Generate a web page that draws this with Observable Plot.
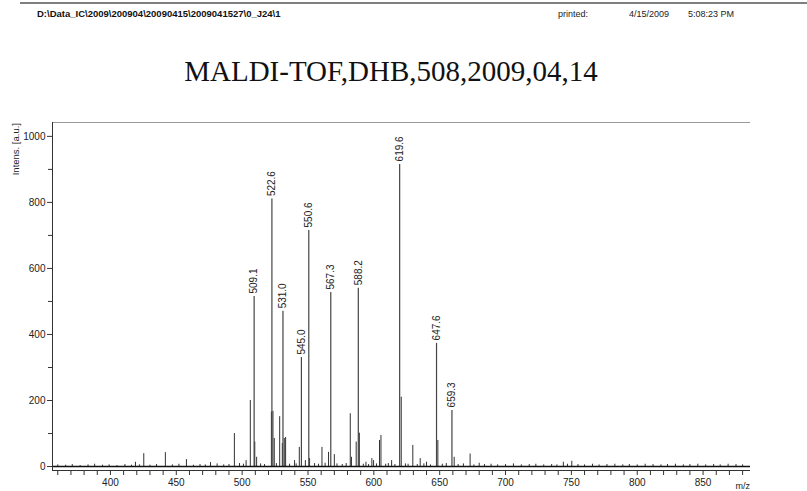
<!DOCTYPE html>
<html><head><meta charset="utf-8">
<script src="https://cdn.jsdelivr.net/npm/d3@7"></script>
<script src="https://cdn.jsdelivr.net/npm/@observablehq/plot@0.6"></script>
<style>
body{margin:0;background:#fff;}
#wrap{position:relative;width:807px;height:491px;overflow:hidden;background:#fff;}
#wrap svg{position:absolute;left:0;top:0;}
</style></head><body><div id="wrap"></div>
<script>
// ---- texts ----
const headerPath = "D:\\Data_IC\\2009\\200904\\20090415\\2009041527\\0_J24\\1";
const printedLabel = "printed:";
const printedDate = "4/15/2009";
const printedTime = "5:08:23 PM";
const titleText = "MALDI-TOF,DHB,508,2009,04,14";
const yLabel = "Intens. [a.u.]";
const xLabel = "m/z";

// ---- labelled peaks ----
const labeledMz = [509.1, 522.6, 531.0, 545.0, 550.6, 567.3, 588.2, 619.6, 647.6, 659.3];
const labeledIntensity = [515, 810, 470, 330, 715, 527, 540, 915, 373, 170];

// ---- unlabelled peaks ----
const minorMz = [419, 425.3, 441.7, 457.7, 476, 494.1, 503, 506.2, 509.6, 511, 522.2, 523.4, 524.4, 528.5, 530.5, 532, 533, 539.8, 543.4, 548, 551.2, 560.6, 565.6, 570, 582.1, 583, 586.6, 589, 594, 598.5, 599.8, 604.3, 605.4, 613.5, 620.8, 629.6, 635.2, 640, 648.6, 661, 673.1, 680, 743.9, 750.3];
const minorIntensity = [13, 39, 42, 21, 12, 100, 18, 200, 74, 28, 165, 167, 85, 151, 70, 85, 88, 18, 58, 18, 24, 58, 43, 36, 160, 28, 74, 101, 13, 24, 18, 79, 94, 18, 210, 64, 24, 13, 79, 28, 38, 10, 13, 16];

// ---- baseline noise ----
const noiseMz = [360,366,371,377,383,388,394,399,405,411,416,422,430,435,447,452,463,468,472,481,486,490,498,501,514,517,526,536,541,555,558,563,572,576,579,592,596,602,609,611,616,624,626,633,638,643,652,655,664,668,676,684,689,694,700,706,712,718,723,729,735,739,747,755,760,766,771,777,783,789,794,800,806,812,818,823,829,835,840,846,852,858,863,869,875,880];
const noiseIntensity = [5,4,6,3,5,7,4,5,3,6,4,5,4,6,5,7,4,6,5,8,5,6,9,7,8,6,9,7,8,9,7,10,8,6,9,7,6,8,7,9,6,8,7,6,8,5,7,9,6,8,5,6,7,5,6,8,5,6,7,5,6,5,7,6,5,7,5,6,7,5,6,5,7,6,5,6,7,5,6,7,5,6,5,7,6,5];

// ---- ticks & domains ----
const xMajorTicks = [400, 450, 500, 550, 600, 650, 700, 750, 800, 850];
const xMinorTicks = [360,370,380,390,410,420,430,440,460,470,480,490,510,520,530,540,560,570,580,590,610,620,630,640,660,670,680,690,710,720,730,740,760,770,780,790,810,820,830,840,860,870,880];
const yMajorTicks = [0, 200, 400, 600, 800, 1000];
const yMinorTicks = [100, 300, 500, 700, 900];
const xDomain = [356, 886];
const yDomain = [-12, 1042];

const labeled = labeledMz.map((mz, i) => ({mz, intensity: labeledIntensity[i]}));
const minor = minorMz.map((mz, i) => ({mz, intensity: minorIntensity[i]}));
const noise = noiseMz.map((mz, i) => ({mz, intensity: noiseIntensity[i]}));

const chart = Plot.plot({
  width: 807,
  height: 491,
  marginLeft: 52,
  marginRight: 57,
  marginTop: 122,
  marginBottom: 21,
  style: {fontFamily: "'Liberation Sans', Arial, sans-serif", fontSize: "10px", color: "#222", background: "transparent"},
  x: {domain: xDomain, label: null},
  y: {domain: yDomain, label: null},
  marks: [
    Plot.ruleY([yDomain[1]], {stroke: "#9a9a9a", strokeWidth: 1}),
    Plot.ruleX(noise, {x: "mz", y1: 0, y2: "intensity", stroke: "#333", strokeWidth: 1}),
    Plot.ruleX(minor, {x: "mz", y1: 0, y2: "intensity", stroke: "#333", strokeWidth: 1}),
    Plot.ruleX(labeled, {x: "mz", y1: 0, y2: "intensity", stroke: "#444", strokeWidth: 1.2}),
    Plot.ruleY([0], {stroke: "#111", strokeWidth: 1.6}),
    Plot.text(labeled, {x: "mz", y: "intensity", text: d => d.mz.toFixed(1), rotate: -90, textAnchor: "start", dy: -3, fontSize: 10, fill: "#222"}),
    Plot.ruleY([yDomain[0]], {stroke: "#333", strokeWidth: 1}),
    Plot.ruleX([xDomain[0]], {stroke: "#333", strokeWidth: 1}),
    Plot.axisX(xMinorTicks, {tickSize: 5, tickFormat: () => "", stroke: "#333", label: null}),
    Plot.axisX(xMajorTicks, {tickSize: 5, tickPadding: 3, fontSize: 10, tickFormat: d => String(d), label: null, stroke: "#333", fill: "#222"}),
    Plot.axisY(yMinorTicks, {tickSize: 4, tickFormat: () => "", stroke: "#333", label: null}),
    Plot.axisY(yMajorTicks, {tickSize: 5, tickPadding: 2, fontSize: 10, tickFormat: d => String(d), label: null, stroke: "#333", fill: "#222"})
  ]
});
const wrap = document.getElementById("wrap");
wrap.appendChild(chart);

// ---- overlay texts ----
const ns = "http://www.w3.org/2000/svg";
const ov = document.createElementNS(ns, "svg");
ov.setAttribute("width", 807); ov.setAttribute("height", 491);
function add(tag, attrs, text) {
  const el = document.createElementNS(ns, tag);
  for (const k in attrs) el.setAttribute(k, attrs[k]);
  if (text != null) el.textContent = text;
  ov.appendChild(el);
  return el;
}
add("line", {x1: 20, x2: 807, y1: 3, y2: 3, stroke: "#555", "stroke-width": 1.5});
add("text", {x: 37, y: 17, "font-family": "'Liberation Sans', Arial, sans-serif", "font-size": 9.5, "font-weight": "bold", fill: "#111"}, headerPath);
add("text", {x: 558, y: 17, "font-family": "'Liberation Sans', Arial, sans-serif", "font-size": 9, fill: "#222"}, printedLabel);
add("text", {x: 629, y: 17, "font-family": "'Liberation Sans', Arial, sans-serif", "font-size": 9, fill: "#222"}, printedDate);
add("text", {x: 688, y: 17, "font-family": "'Liberation Sans', Arial, sans-serif", "font-size": 9, fill: "#222"}, printedTime);
add("text", {x: 391, y: 81, "text-anchor": "middle", "font-family": "'Liberation Serif', 'Times New Roman', serif", "font-size": 29, fill: "#111"}, titleText);
add("text", {transform: "translate(19,123) rotate(-90)", "text-anchor": "end", "font-family": "'Liberation Sans', Arial, sans-serif", "font-size": 9.5, fill: "#222"}, yLabel);
add("text", {x: 750, y: 489, "text-anchor": "end", "font-family": "'Liberation Sans', Arial, sans-serif", "font-size": 9, fill: "#222"}, xLabel);
wrap.appendChild(ov);
</script></body></html>
